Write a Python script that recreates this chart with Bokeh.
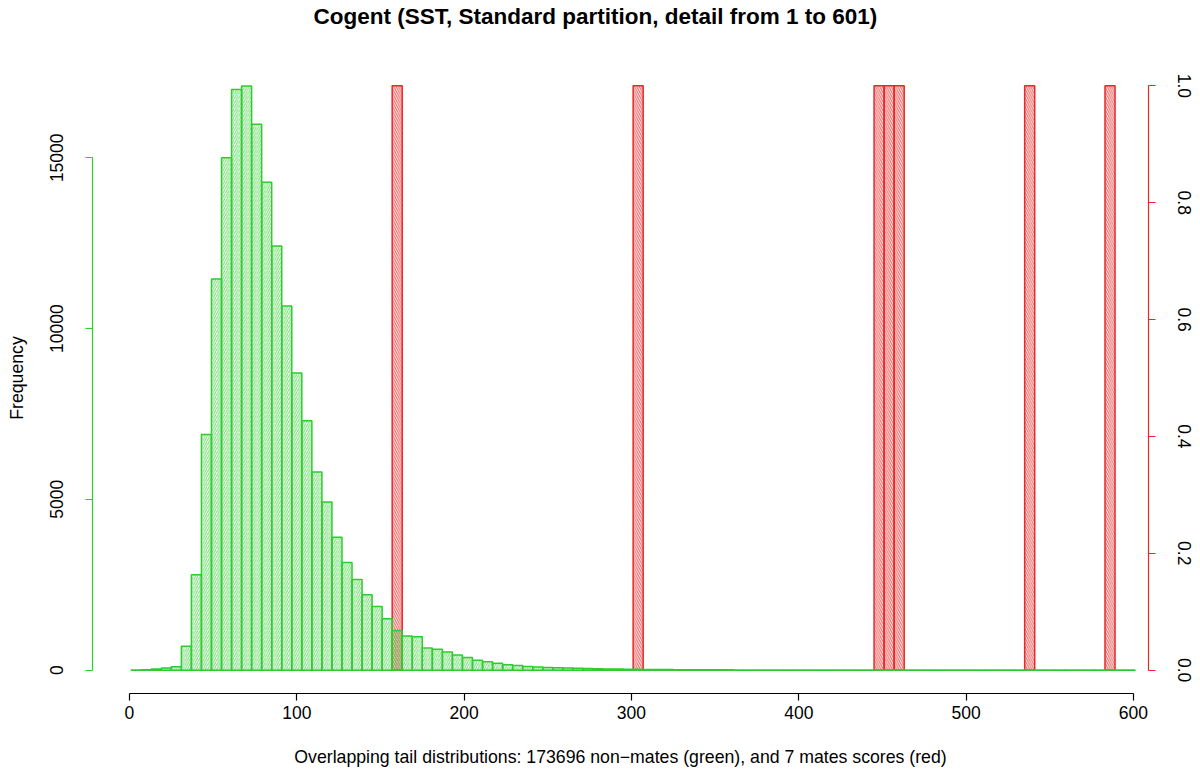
from bokeh.plotting import figure
from bokeh.models import Range1d, LinearAxis, FixedTicker, NumeralTickFormatter, Title
from bokeh.embed import file_html
from bokeh.resources import INLINE

# ---- data ----
breaks_start = 1
bin_width = 6
green_counts = [
    4, 12, 30, 60, 100, 700, 2790, 6900, 11450, 15000,
    17000, 17100, 15980, 14280, 12420, 10660, 8700, 7300, 5800, 4920,
    3890, 3150, 2650, 2210, 1866, 1506, 1160, 1000, 975, 650,
    610, 530, 440, 370, 290, 245, 200, 160, 135, 110,
    95, 80, 70, 62, 55, 48, 42, 36, 31, 27,
    23, 20, 18, 16, 14, 12, 11, 10, 9, 8,
    7, 7, 6, 5, 5, 4, 4, 4, 3, 3,
    3, 3, 2, 2, 2, 2, 2, 2, 1, 1,
    1, 1, 1, 1, 1, 1, 1, 1, 1, 1,
    1, 1, 1, 1, 1, 1, 1, 1, 1, 1,
]
mate_bin_lefts = [157, 301, 445, 451, 457, 535, 583]
mate_heights = [1, 1, 1, 1, 1, 1, 1]

x_ticks = [0, 100, 200, 300, 400, 500, 600]
left_ticks = [0, 5000, 10000, 15000]
right_ticks = [0.0, 0.2, 0.4, 0.6, 0.8, 1.0]

title_text = "Cogent (SST, Standard partition, detail from 1 to 601)"
x_label = "Overlapping tail distributions: 173696 non\u2212mates (green), and 7 mates scores (red)"
y_label = "Frequency"

GREEN = "#2ECC2E"
RED = "#E82828"
FONT = "Liberation Sans"

green_lefts = [breaks_start + bin_width * i for i in range(len(green_counts))]
green_rights = [l + bin_width for l in green_lefts]
mate_rights = [l + bin_width for l in mate_bin_lefts]

p = figure(width=1198, height=780, output_backend="svg", toolbar_location=None,
           x_range=Range1d(-22.1, 609.0), y_range=Range1d(-684, 17789),
           min_border_left=92, min_border_right=50, min_border_top=62, min_border_bottom=87,
           x_axis_location=None, y_axis_location=None)
p.extra_y_ranges = {"mates": Range1d(-0.04, 1.04)}
p.outline_line_color = None
p.xgrid.visible = False
p.ygrid.visible = False
p.background_fill_color = "white"

# spacer between title and frame, then the title itself on top
spacer = Title(text=" ", text_font_size="1px", standoff=28)
p.add_layout(spacer, "above")
main_title = Title(text=title_text, align="left", offset=221, vertical_align="top", standoff=2,
                   text_font=FONT, text_font_size="22.5px", text_font_style="bold",
                   text_color="black")
p.add_layout(main_title, "above")

# mates (red) drawn first
p.quad(left=mate_bin_lefts, right=mate_rights, bottom=0, top=mate_heights,
       y_range_name="mates", fill_alpha=0, line_color=RED, line_width=1.5,
       hatch_pattern="left_diagonal_line", hatch_color=RED, hatch_alpha=0.7,
       hatch_scale=4.5, hatch_weight=1.2)

# non-mates (green)
p.quad(left=green_lefts, right=green_rights, bottom=0, top=green_counts,
       fill_alpha=0, line_color=GREEN, line_width=1.5,
       hatch_pattern="right_diagonal_line", hatch_color=GREEN, hatch_alpha=0.6,
       hatch_scale=4.5, hatch_weight=1.2)

def style(ax, color, label_color="black"):
    ax.axis_line_color = color
    ax.major_tick_line_color = color
    ax.axis_line_width = 1.2
    ax.major_tick_line_width = 1.2
    ax.major_tick_out = 7
    ax.major_tick_in = 0
    ax.minor_tick_line_color = None
    ax.major_label_text_font = FONT
    ax.major_label_text_font_size = "17.5px"
    ax.major_label_text_color = label_color
    ax.axis_label_text_font = FONT
    ax.axis_label_text_font_size = "17.7px"
    ax.axis_label_text_font_style = "normal"
    ax.axis_label_text_color = "black"

xaxis = LinearAxis(ticker=FixedTicker(ticks=x_ticks), bounds=(0, 600), axis_label=x_label)
style(xaxis, "black")
xaxis.major_label_standoff = 5
xaxis.axis_label_standoff = 25
p.add_layout(xaxis, "below")

yaxis = LinearAxis(ticker=FixedTicker(ticks=left_ticks), bounds=(0, 15000), axis_label=y_label)
style(yaxis, GREEN)
yaxis.major_label_orientation = "vertical"
yaxis.major_label_standoff = 22
yaxis.axis_label_standoff = 21
p.add_layout(yaxis, "left")

raxis = LinearAxis(y_range_name="mates", ticker=FixedTicker(ticks=right_ticks), bounds=(0, 1),
                   formatter=NumeralTickFormatter(format="0.0"))
style(raxis, RED)
raxis.major_label_orientation = "vertical"
raxis.major_label_standoff = 22
p.add_layout(raxis, "right")

open("out.html", "w").write(file_html(p, INLINE))
